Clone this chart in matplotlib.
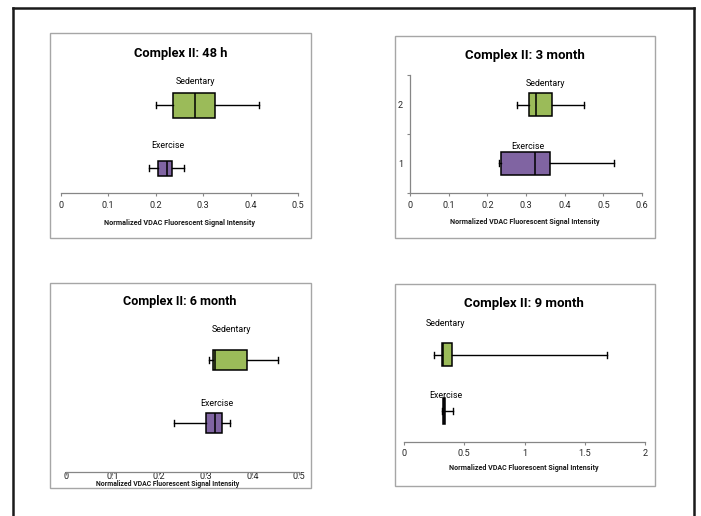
import matplotlib
matplotlib.use("Agg")
import matplotlib.pyplot as plt
from matplotlib.lines import Line2D
from matplotlib.patches import Rectangle

plt.rcParams['font.family'] = ['Roboto', 'DejaVu Sans']
plt.rcParams['font.stretch'] = 'condensed'

W, H = 701, 516

titles = ["Complex II: 48 h", "Complex II: 3 month", "Complex II: 6 month", "Complex II: 9 month"]
groups = ["Exercise", "Sedentary"]
axis_label = "Normalized VDAC Fluorescent Signal Intensity"

# five-number summaries: whisker low, Q1, median, Q3, whisker high
h48_exercise = [0.187, 0.205, 0.225, 0.234, 0.259]
h48_sedentary = [0.200, 0.236, 0.284, 0.326, 0.417]
m3_exercise = [0.231, 0.235, 0.324, 0.362, 0.527]
m3_sedentary = [0.276, 0.308, 0.327, 0.368, 0.450]
m6_exercise = [0.233, 0.301, 0.319, 0.335, 0.352]
m6_sedentary = [0.308, 0.316, 0.321, 0.388, 0.456]
m9_exercise = [0.315, 0.326, 0.332, 0.338, 0.404]
m9_sedentary = [0.249, 0.318, 0.327, 0.396, 1.688]

xticks_48h = [0, 0.1, 0.2, 0.3, 0.4, 0.5]
xticks_3m = [0, 0.1, 0.2, 0.3, 0.4, 0.5, 0.6]
xticks_6m = [0, 0.1, 0.2, 0.3, 0.4, 0.5]
xticks_9m = [0, 0.5, 1, 1.5, 2]

panel_data = [
    (h48_exercise, h48_sedentary, xticks_48h),
    (m3_exercise, m3_sedentary, xticks_3m),
    (m6_exercise, m6_sedentary, xticks_6m),
    (m9_exercise, m9_sedentary, xticks_9m),
]

# layout in pixels (y from top); tw = target text widths (title, axis label)
layout = [
    dict(frame=(50, 33, 311, 238), x0=60.7, x1=298, axy=193, y1=168, y2=105, top=62,
         title=(180.5, 53), xlab=(179, 223), bw=(15, 25), tickc=207,
         lab=((0.225, 145), (0.283, 82)), tw=(87, 140), yaxis=False),
    dict(frame=(395, 36, 655, 238), x0=410, x1=642, axy=192.7, y1=164.3, y2=105, top=75.4,
         title=(525, 55), xlab=(525, 222), bw=(23.3, 23.3), tickc=206,
         lab=((0.306, 147.3), (0.350, 83.3)), tw=(111, 137), yaxis=True),
    dict(frame=(50, 283, 311, 488), x0=65.7, x1=299, axy=471.7, y1=423, y2=360, top=315,
         title=(180, 302), xlab=(168, 484.3), bw=(20, 20), tickc=477.5,
         lab=((0.324, 404), (0.356, 329)), tw=(106, 133), yaxis=False),
    dict(frame=(395, 284, 655, 486), x0=404, x1=645, axy=441.7, y1=411, y2=354.5, top=318,
         title=(524, 304), xlab=(524, 468.5), bw=(26, 23.5), tickc=454.5,
         lab=((0.348, 396), (0.346, 324)), tw=(111, 139), yaxis=False),
]

fills = ["#8064A2", "#9BBB59"]
axis_grey = "#868686"
tick_len_pt = 2.5
tick_fs = 6.6
grow = 1.08
cat_ref_width = 33 * 1.2

fig = plt.figure(figsize=(W / 100, H / 100), dpi=100)
renderer = fig.canvas.get_renderer()


def fx(x):
    return x / W


def fy(y):
    return 1 - y / H


def fit(t, target, g=grow):
    t.set_fontsize(10)
    w = t.get_window_extent(renderer).width
    t.set_fontsize(10 * g * target / w)
    return t


# one common size for the category labels
probe = fig.text(0, 0, "Sedentary")
fit(probe, cat_ref_width, 1.0)
cat_fs = probe.get_fontsize()
probe.remove()

# outer frame (bottom edge outside the image)
for xs, ys in [((13, 13), (8, 520)), ((13, 694), (8, 8)), ((694, 694), (8, 520))]:
    fig.add_artist(Line2D([fx(v) for v in xs], [fy(v) for v in ys], color="#1a1a1a", lw=1.8))

for (ex, sed, xt), L, title in zip(panel_data, layout, titles):
    fl, ft, fr, fb = L["frame"]
    fig.add_artist(Rectangle((fx(fl), fy(fb)), fx(fr) - fx(fl), fy(ft) - fy(fb),
                             fill=False, edgecolor="#A6A6A6", lw=1.0))
    ax = fig.add_axes([fx(L["x0"]), fy(L["axy"]), fx(L["x1"]) - fx(L["x0"]),
                       fy(L["top"]) - fy(L["axy"])])
    unit = L["y1"] - L["y2"]
    ylo = 1 - (L["axy"] - L["y1"]) / unit
    yhi = 2 + (L["y2"] - L["top"]) / unit
    ax.set_ylim(ylo, yhi)
    ax.set_xlim(xt[0], xt[-1])
    ax.patch.set_visible(False)

    stats = []
    for name, v in zip(groups, [ex, sed]):
        stats.append(dict(label=name, whislo=v[0], q1=v[1], med=v[2], q3=v[3], whishi=v[4], fliers=[]))
    widths = [w / unit for w in L["bw"]]
    bp = ax.bxp(stats, positions=[1, 2], widths=widths, orientation='horizontal',
                patch_artist=True, showfliers=False, capwidths=[6 / unit, 6 / unit],
                boxprops=dict(edgecolor="black", linewidth=1.1),
                medianprops=dict(color="black", linewidth=1.1),
                whiskerprops=dict(color="black", linewidth=1.0),
                capprops=dict(color="black", linewidth=1.0),
                manage_ticks=False)
    for patch, c in zip(bp["boxes"], fills):
        patch.set_facecolor(c)

    for (lx, ly), name in zip(L["lab"], groups):
        ref_px = L["y1"] if name == "Exercise" else L["y2"]
        ydata = (1 if name == "Exercise" else 2) + (ref_px - ly) / unit
        ax.text(lx, ydata, name, ha="center", va="center", color="black", fontsize=cat_fs)

    # tick label pad so that the label centre sits at tickc
    label_h_px = tick_fs * 1.2 / 72 * 100
    top_px = L["tickc"] - label_h_px / 2
    pad_pt = (top_px - L["axy"]) * 0.72 - tick_len_pt
    ax.set_xticks(xt)
    ax.set_xticklabels([f"{t:g}" for t in xt])
    ax.tick_params(axis="x", direction="out", length=tick_len_pt, width=0.8, color=axis_grey,
                   labelsize=tick_fs, pad=pad_pt, labelcolor="#262626")
    for s in ["top", "right"]:
        ax.spines[s].set_visible(False)
    ax.spines["bottom"].set_color(axis_grey)
    ax.spines["bottom"].set_linewidth(0.9)
    if L["yaxis"]:
        ax.spines["left"].set_color(axis_grey)
        ax.spines["left"].set_linewidth(0.9)
        ax.set_yticks([0.5, 1.5, 2.5])
        ax.set_yticklabels([])
        ax.set_yticks([1, 2], minor=True)
        ax.set_yticklabels(["1", "2"], minor=True)
        ax.tick_params(axis="y", which="major", direction="out", length=2.5, width=0.8, color=axis_grey)
        ax.tick_params(axis="y", which="minor", length=0, labelsize=tick_fs, pad=5, labelcolor="#262626")
    else:
        ax.spines["left"].set_visible(False)
        ax.set_yticks([])

    tt = fig.text(fx(L["title"][0]), fy(L["title"][1]), title, ha="center", va="center",
                  fontweight="bold", color="black")
    fit(tt, L["tw"][0])
    xl = fig.text(fx(L["xlab"][0]), fy(L["xlab"][1]), axis_label, ha="center", va="center",
                  fontweight="bold", color="#1a1a1a")
    fit(xl, L["tw"][1])

fig.savefig("out.png", dpi=100)
